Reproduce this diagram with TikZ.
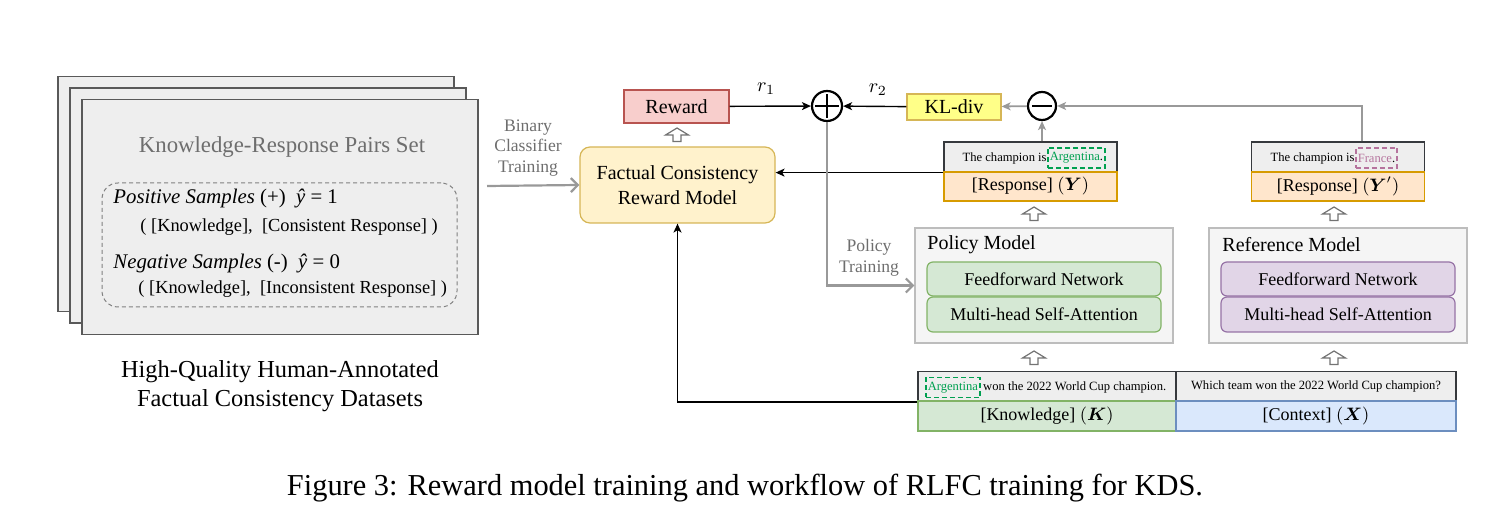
\documentclass[tikz,border=0pt]{standalone}
\usepackage{amsmath,amssymb,bm}
\usepackage{fontspec}
\setmainfont{Liberation Serif}
\usetikzlibrary{arrows.meta,positioning,calc}

\definecolor{rwfill}{HTML}{F8CECC}\definecolor{rwline}{HTML}{B85450}
\definecolor{rmfill}{HTML}{FFF2CC}\definecolor{rmline}{HTML}{D6B656}
\definecolor{klfill}{HTML}{FFFF88}
\definecolor{rsfill}{HTML}{FFE6CC}\definecolor{rsline}{HTML}{D79B00}
\definecolor{txfill}{HTML}{EEEEEE}\definecolor{txline}{HTML}{36393D}
\definecolor{pmfill}{HTML}{F5F5F5}\definecolor{pmline}{HTML}{BDBDBD}
\definecolor{gnfill}{HTML}{D5E8D4}\definecolor{gnline}{HTML}{82B366}
\definecolor{pufill}{HTML}{E1D5E7}\definecolor{puline}{HTML}{9673A6}
\definecolor{ctfill}{HTML}{DAE8FC}\definecolor{ctline}{HTML}{6C8EBF}
\definecolor{tagg}{HTML}{00A050}\definecolor{tagp}{HTML}{B5739D}
\definecolor{arrg}{HTML}{999999}\definecolor{txtg}{HTML}{6E6E6E}

\newcommand{\fcap}{\fontsize{15.2}{18}\selectfont}
\newcommand{\fbig}{\fontsize{12.2}{14.5}\selectfont}
\newcommand{\fttl}{\fontsize{11.4}{13.5}\selectfont}
\newcommand{\fmid}{\fontsize{10}{12.5}\selectfont}
\newcommand{\fsml}{\fontsize{9}{11}\selectfont}
\newcommand{\flbl}{\fontsize{8.8}{10.4}\selectfont}
\newcommand{\ftiny}{\fontsize{6.3}{7.5}\selectfont}

\begin{document}
\begin{tikzpicture}[x=0.5pt, y=-0.5pt,
  barrow/.style={line width=0.7pt, black, -{Stealth[length=4.5pt, width=4pt, inset=1.2pt]}},
  garrow/.style={line width=0.9pt, arrg, -{Stealth[length=4.5pt, width=4pt, inset=1.2pt]}},
  gopen/.style={line width=1.1pt, arrg, -{Straight Barb[length=3.5pt, width=7pt]}},
  box/.style={draw, line width=0.6pt, inner sep=0pt, align=center},
  sheet/.style={draw=black!65, line width=0.8pt, fill=txfill, minimum width=198pt, minimum height=117.5pt},
  rmbox/.style={box, draw=rmline, fill=rmfill, rounded corners=5pt, minimum width=97.5pt, minimum height=38pt, font=\fmid},
  rwbox/.style={box, draw=rwline, fill=rwfill, minimum width=52.5pt, minimum height=16.5pt, font=\fmid},
  klbox/.style={box, draw=rmline, fill=klfill, minimum width=47pt, minimum height=13pt, font=\fmid},
  opcirc/.style={circle, draw=black, line width=1.1pt, fill=white, minimum size=15pt, inner sep=0pt},
  txrow/.style={box, draw=txline, fill=txfill, minimum height=15pt, font=\ftiny},
  rsrow/.style={box, draw=rsline, fill=rsfill, minimum width=86.5pt, minimum height=14.5pt, font=\fsml},
  model/.style={box, draw=pmline, fill=pmfill, minimum width=129pt, minimum height=57.5pt},
  layer/.style={box, rounded corners=3pt, minimum width=117pt, minimum height=17pt, font=\fsml},
  tag/.style={dashed, dash pattern=on 2.5pt off 1.5pt, line width=0.75pt, inner sep=1pt, minimum height=10pt, font=\ftiny},
  hup/.pic={\draw[line width=0.6pt, draw=black!55, fill=white] (-4,6.5) -- (-4,0) -- (-11.5,0) -- (0,-7) -- (11.5,0) -- (4,0) -- (4,6.5) -- cycle;}
]
  \useasboundingbox (0,0) rectangle (1492,517);

  % data set (left)
  \node[sheet] (sheetC) at (256,194) {};
  \node[sheet] (sheetB) at (268,205.5) {};
  \node[sheet] (sheetA) at (280,217) {};
  \node[font=\fttl, text=txtg] (settitle) at (282,147) {Knowledge-Response Pairs Set};
  \node[draw=black!50, dashed, dash pattern=on 2pt off 1.5pt, line width=0.5pt, rounded corners=8pt,
        minimum width=177.5pt, minimum height=62pt] (samples) at (279.5,245) {};
  \node[anchor=west, font=\fontsize{10.4}{12}\selectfont, inner sep=0pt] (pos) at (113,199)
        {\textit{Positive Samples} (+)\ \ \textit{ŷ} = 1};
  \node[anchor=west, font=\fontsize{9.2}{11}\selectfont, inner sep=0pt] (pospair) at (140,227)
        {( [Knowledge],\ \ [Consistent Response] )};
  \node[anchor=west, font=\fontsize{10.4}{12}\selectfont, inner sep=0pt] (neg) at (113,264)
        {\textit{Negative Samples} (-)\ \ \textit{ŷ} = 0};
  \node[anchor=west, font=\fontsize{9.2}{11}\selectfont, inner sep=0pt] (negpair) at (138,289)
        {( [Knowledge],\ \ [Inconsistent Response] )};
  \node[font=\fbig, align=center] (dsname) at (280,386)
        {High-Quality Human-Annotated\\Factual Consistency Datasets};

  % reward model
  \node[rmbox] (rm) at (677.5,185) {Factual Consistency\\Reward Model};
  \node[rwbox] (reward) at (676.5,106.5) {Reward};
  \pic at (677,135) {hup};
  \coordinate (bin) at (487,186);
  \draw[gopen] (bin) -- (rm.west);
  \node[font=\flbl, text=txtg, align=center] (binlbl) at (528,148) {Binary\\Classifier\\Training};

  % plus / minus
  \node[opcirc] (plus) at (827,106) {};
  \draw[line width=1.1pt] ([yshift=-6pt]plus.center) -- ([yshift=6pt]plus.center);
  \draw[line width=1.1pt] ([xshift=-6pt]plus.center) -- ([xshift=6pt]plus.center);
  \node[klbox] (kl) at (954,107) {KL-div};
  \node[opcirc, minimum size=14pt] (minus) at (1042,106) {};
  \draw[line width=1.3pt] ([xshift=-5pt]minus.center) -- ([xshift=5pt]minus.center);
  \draw[barrow] (reward) -- (plus) node[pos=0.45, above=2pt] {$r_1$};
  \draw[barrow] (kl) -- (plus) node[pos=0.45, above=2pt] {$r_2$};
  \draw[garrow] (minus) -- (kl);

  % responses
  \node[txrow, minimum width=86.5pt] (respYt) at (1030.5,157) {};
  \node[rsrow] (respY) at (1030.5,186.5) {[Response] $(\boldsymbol{Y})$};
  \node[tag, draw=tagg, anchor=west] (arg1) at (1047,158) {\textcolor{tagg}{Argentina}.};
  \node[anchor=east, font=\ftiny, inner sep=0pt] (champ1) at (arg1.west) {The champion is};
  \node[txrow, minimum width=86.5pt] (respY2t) at (1338,157) {};
  \node[rsrow] (respY2) at (1338,186.5) {[Response] $(\boldsymbol{Y}')$};
  \node[tag, draw=tagp, anchor=west] (fra) at (1355,158) {\textcolor{tagp}{France}.};
  \node[anchor=east, font=\ftiny, inner sep=0pt] (champ2) at (fra.west) {The champion is};
  \draw[garrow] (minus.south |- respYt.north) -- (minus.south);
  \draw[garrow] ([xshift=12pt]respY2t.north) |- (minus.east);
  \draw[barrow] (respYt.south west) -- (rm.east |- respYt.south west);
  \pic at (1034,214) {hup};
  \pic at (1334,214) {hup};

  % policy / reference model
  \node[model] (policy) at (1044,285.5) {};
  \node[anchor=west, font=\fmid, inner sep=0pt] (poltitle) at (927,245) {Policy Model};
  \node[layer, draw=gnline, fill=gnfill] (ff1) at (1044,279) {Feedforward Network};
  \node[layer, draw=gnline, fill=gnfill, minimum height=17.5pt] (mh1) at (1044,314.5) {Multi-head Self-Attention};
  \node[model] (refm) at (1338,285.5) {};
  \node[anchor=west, font=\fmid, inner sep=0pt] (reftitle) at (1222,245) {Reference Model};
  \node[layer, draw=puline, fill=pufill] (ff2) at (1338,279) {Feedforward Network};
  \node[layer, draw=puline, fill=pufill, minimum height=17.5pt] (mh2) at (1338,314.5) {Multi-head Self-Attention};
  \draw[gopen] (plus.south) |- (policy.west);
  \node[font=\flbl, text=txtg, align=center] (pollbl) at (869,258) {Policy\\Training};
  \pic at (1034,358) {hup};
  \pic at (1334,358) {hup};

  % knowledge / context
  \node[txrow, minimum width=129pt] (knowt) at (1047,386.5) {};
  \node[rsrow, draw=gnline, fill=gnfill, minimum width=129pt, minimum height=15pt] (know) at (1047,416) {[Knowledge] $(\boldsymbol{K})$};
  \node[txrow, minimum width=140pt] (ctxt) at (1316,386.5) {Which team won the 2022 World Cup champion?};
  \node[rsrow, draw=ctline, fill=ctfill, minimum width=140pt, minimum height=15pt] (ctx) at (1316,416) {[Context] $(\boldsymbol{X})$};
  \node[tag, draw=tagg, anchor=west] (arg2) at (925,387.5) {\textcolor{tagg}{Argentina}};
  \node[anchor=west, font=\ftiny, inner sep=0pt] (wontxt) at (arg2.east) {\,won the 2022 World Cup champion.};
  \draw[barrow] (knowt.south west) -| (rm.south);

  % caption
  \node[font=\fcap] (caption) at (745,488) {Figure 3: Reward model training and workflow of RLFC training for KDS.};
\end{tikzpicture}
\end{document}
